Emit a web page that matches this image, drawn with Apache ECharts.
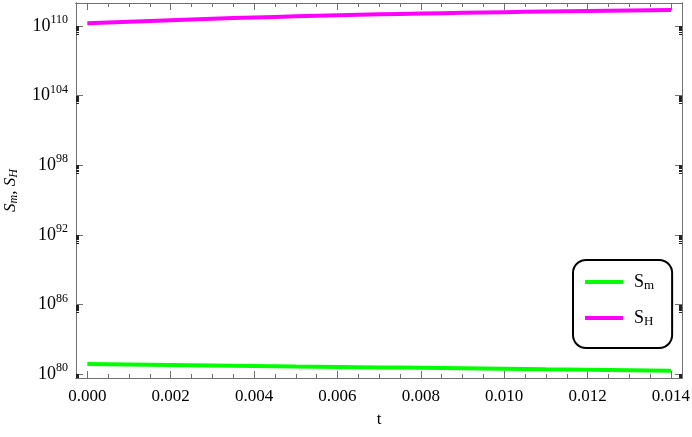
<!DOCTYPE html>
<html>
<head>
<meta charset="utf-8">
<script src="https://cdn.jsdelivr.net/npm/echarts@6/dist/echarts.min.js"></script>
<style>
  html, body { margin: 0; padding: 0; background: #fff; }
  #chart { width: 692px; height: 437px; }
</style>
</head>
<body>
<div id="chart"></div>
<script>
// t values and log10 of S_m / S_H
const T = [0, 0.001, 0.002, 0.003, 0.004, 0.005, 0.006, 0.007, 0.008, 0.009, 0.010, 0.011, 0.012, 0.013, 0.014]
const LOG_SM = [80.86, 80.82, 80.78, 80.74, 80.70, 80.65, 80.61, 80.57, 80.53, 80.49, 80.45, 80.40, 80.36, 80.32, 80.28]
const LOG_SH = [110.23, 110.37, 110.50, 110.62, 110.73, 110.83, 110.92, 111.00, 111.07, 111.13, 111.19, 111.24, 111.29, 111.34, 111.38]

const X_TICKS = [0, 0.002, 0.004, 0.006, 0.008, 0.010, 0.012, 0.014]
const X_MINOR = [0.0005, 0.001, 0.0015, 0.0025, 0.003, 0.0035, 0.0045, 0.005, 0.0055, 0.0065, 0.007, 0.0075,
  0.0085, 0.009, 0.0095, 0.0105, 0.011, 0.0115, 0.0125, 0.013, 0.0135]
const Y_TICKS = [80, 86, 92, 98, 104, 110]

const FONT = 'Liberation Serif'
const AXIS = '#707070'
const X_MIN = -0.000271, X_MAX = 0.014264
const Y_MIN = 79.655, Y_MAX = 111.98

// log-style minor ticks (2..9 x 10^(n-1)) under each labelled decade
const Y_MINOR = Y_TICKS.flatMap(n => [2, 3, 4, 5, 6, 7, 8, 9].map(k => n - 1 + Math.log10(k)))
  .filter(v => v > Y_MIN)

const chart = echarts.init(document.getElementById('chart'), null, { renderer: 'canvas' })

function xAxisOf(pos, ticks, len, labels) {
  return {
    type: 'value', position: pos, min: X_MIN, max: X_MAX,
    axisLine: { show: true, onZero: false, lineStyle: { color: AXIS, width: 1 } },
    axisTick: { show: true, inside: true, length: len, customValues: ticks, lineStyle: { color: AXIS } },
    axisLabel: labels
      ? { show: true, customValues: ticks, margin: 10, color: '#000', fontFamily: FONT, fontSize: 17,
          formatter: v => v.toFixed(3) }
      : { show: false },
    splitLine: { show: false },
  }
}

function yAxisOf(pos, ticks, len, color, labels) {
  return {
    type: 'value', position: pos, min: Y_MIN, max: Y_MAX,
    axisLine: { show: true, onZero: false, lineStyle: { color: AXIS, width: 1 } },
    axisTick: { show: true, inside: true, length: len, customValues: ticks, lineStyle: { color: color } },
    axisLabel: labels
      ? { show: true, customValues: ticks, margin: 8, color: '#000', fontFamily: FONT,
          formatter: v => '{b|10}{s|' + Math.round(v) + '}',
          rich: {
            b: { fontFamily: FONT, fontSize: 18, color: '#000' },
            s: { fontFamily: FONT, fontSize: 12, color: '#000', padding: [0, 0, 12, 0] },
          } }
      : { show: false },
    splitLine: { show: false },
  }
}

const xAxes = [
  xAxisOf('bottom', X_TICKS, 7, true),
  xAxisOf('top', X_TICKS, 7, false),
  xAxisOf('bottom', X_MINOR, 4, false),
  xAxisOf('top', X_MINOR, 4, false),
]
xAxes[0].name = 't'
xAxes[0].nameLocation = 'middle'
xAxes[0].nameGap = 33
xAxes[0].nameTextStyle = { fontFamily: FONT, fontSize: 17, color: '#000' }

const yAxes = [
  yAxisOf('left', Y_TICKS, 7, AXIS, true),
  yAxisOf('right', Y_TICKS, 7, AXIS, false),
  yAxisOf('left', Y_MINOR, 3, '#222', false),
  yAxisOf('right', Y_MINOR, 3, '#222', false),
]
yAxes[0].name = '{i|S}{sub|m}{i|, S}{sub|H}'
yAxes[0].nameLocation = 'middle'
yAxes[0].nameGap = 56
yAxes[0].nameTextStyle = {
  rich: {
    i: { fontFamily: FONT, fontStyle: 'italic', fontSize: 17, color: '#000' },
    sub: { fontFamily: FONT, fontStyle: 'italic', fontSize: 12, color: '#000', padding: [6, 0, 0, 0] },
  },
}

chart.setOption({
  animation: false,
  backgroundColor: '#fff',
  grid: { left: 76, right: 10, top: 3, bottom: 59, containLabel: false, outerBoundsMode: 'none' },
  xAxis: xAxes,
  yAxis: yAxes,
  legend: {
    orient: 'vertical',
    left: 573, top: 260,
    padding: [13, 18, 20, 12],
    itemGap: 17,
    itemWidth: 38, itemHeight: 4,
    icon: 'rect',
    borderColor: '#000', borderWidth: 2, borderRadius: 13,
    data: ['Sm', 'SH'],
    formatter: name => '{s|S}{sub|' + name.slice(1) + '}',
    textStyle: {
      padding: [0, 0, 0, 6],
      rich: {
        s: { fontFamily: FONT, fontSize: 18, color: '#000' },
        sub: { fontFamily: FONT, fontSize: 13, color: '#000', padding: [7, 0, 0, 0] },
      },
    },
  },
  series: [
    {
      name: 'Sm', type: 'line', xAxisIndex: 0, yAxisIndex: 0,
      data: T.map((t, i) => [t, LOG_SM[i]]),
      showSymbol: false, smooth: true,
      lineStyle: { color: '#00ff00', width: 4 },
      itemStyle: { color: '#00ff00' },
    },
    {
      name: 'SH', type: 'line', xAxisIndex: 0, yAxisIndex: 0,
      data: T.map((t, i) => [t, LOG_SH[i]]),
      showSymbol: false, smooth: true,
      lineStyle: { color: '#ff00ff', width: 4 },
      itemStyle: { color: '#ff00ff' },
    },
  ],
})
</script>
</body>
</html>
